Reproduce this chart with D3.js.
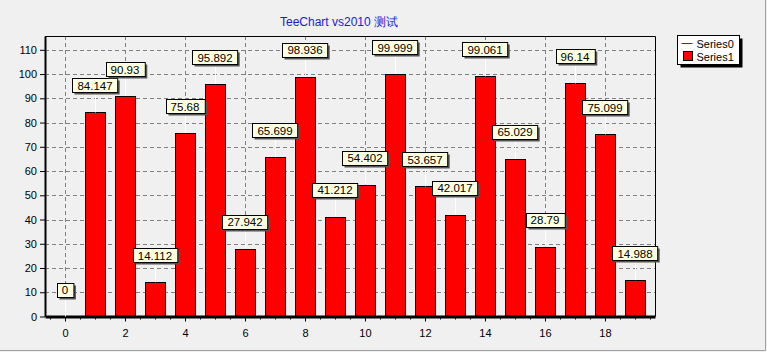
<!DOCTYPE html>
<html>
<head>
<meta charset="utf-8">
<script src="https://cdn.jsdelivr.net/npm/d3@7"></script>
<style>
  html, body { margin: 0; padding: 0; background: #f0f0f0; }
  svg text { font-family: "Liberation Sans", Arial, sans-serif; }
</style>
</head>
<body>
<div id="d3"></div>
<script>
// data
const categories = d3.range(0, 20);
const values = [0, 84.147, 90.93, 14.112, 75.68, 95.892, 27.942, 65.699, 98.936, 41.212,
  54.402, 99.999, 53.657, 42.017, 99.061, 65.029, 28.79, 96.14, 75.099, 14.988];
const yTicks = [0, 10, 20, 30, 40, 50, 60, 70, 80, 90, 100, 110];
const xTicks = [0, 2, 4, 6, 8, 10, 12, 14, 16, 18];
const legendItems = ["Series0", "Series1"];
const title = "TeeChart vs2010 测试";

const W = 767, H = 352;
const plot = { left: 45, right: 655, top: 36, bottom: 316.5 };

const svg = d3
  .select("#d3")
  .append("svg")
  .attr("width", W)
  .attr("height", H);

// panel
svg.append("rect").attr("width", W).attr("height", H).attr("fill", "#f0f0f0");
svg.append("line").attr("x1", 0).attr("x2", 765.5).attr("y1", 350.5).attr("y2", 350.5).attr("stroke", "#a0a0a0");
svg.append("line").attr("x1", 765.5).attr("x2", 765.5).attr("y1", 0).attr("y2", 350.5).attr("stroke", "#a0a0a0");

const x = d3.scaleLinear().domain([-0.667, 19.667]).range([plot.left, plot.right]);
const y = d3.scaleLinear().domain([0, 115.7]).range([plot.bottom, plot.top]);

// title
svg
  .append("text")
  .attr("x", 339)
  .attr("y", 26)
  .attr("text-anchor", "middle")
  .attr("font-size", 12)
  .attr("fill", "#1a1adc")
  .text(title);

// grid
const grid = svg.append("g").attr("stroke", "#808080").attr("stroke-dasharray", "4,3");
grid
  .selectAll("line.h")
  .data(yTicks.filter((d) => d > 0))
  .join("line")
  .attr("x1", plot.left)
  .attr("x2", plot.right)
  .attr("y1", (d) => Math.round(y(d)) + 0.5)
  .attr("y2", (d) => Math.round(y(d)) + 0.5);
grid
  .selectAll("line.v")
  .data(xTicks)
  .join("line")
  .attr("x1", (d) => Math.round(x(d)) + 0.5)
  .attr("x2", (d) => Math.round(x(d)) + 0.5)
  .attr("y1", plot.top)
  .attr("y2", plot.bottom);

// frame top / right
svg
  .append("path")
  .attr("d", `M${plot.left},${plot.top + 0.5}H${plot.right + 0.5}V${plot.bottom}`)
  .attr("fill", "none")
  .attr("stroke", "#000");

// bars
svg
  .append("g")
  .selectAll("rect")
  .data(values)
  .join("rect")
  .attr("x", (d, i) => Math.round(x(categories[i]) - 10) + 0.5)
  .attr("y", (d) => Math.round(y(d)) + 0.5)
  .attr("width", 20)
  .attr("height", (d) => Math.max(0, Math.round(y(0)) - Math.round(y(d))))
  .attr("fill", (d) => (d > 0 ? "#ff0000" : "none"))
  .attr("stroke", (d) => (d > 0 ? "#000" : "none"));

// axes
const yAxis = svg
  .append("g")
  .attr("transform", `translate(${plot.left},0)`)
  .call(d3.axisLeft(y).tickValues(yTicks).tickSize(5).tickPadding(3).tickSizeOuter(0));
const xAxis = svg
  .append("g")
  .attr("transform", `translate(0,${plot.bottom})`)
  .call(d3.axisBottom(x).tickValues(xTicks).tickSize(5).tickPadding(8).tickSizeOuter(0));
// minor ticks every half unit
xAxis
  .selectAll("line.minor")
  .data(d3.range(-0.5, 19.6, 0.5).filter((d) => !xTicks.includes(d)))
  .join("line")
  .attr("class", "minor")
  .attr("x1", (d) => Math.round(x(d)) + 0.5)
  .attr("x2", (d) => Math.round(x(d)) + 0.5)
  .attr("y1", 0)
  .attr("y2", 3)
  .attr("stroke", "#000");
[yAxis, xAxis].forEach((a) => {
  a.selectAll("text").attr("font-size", 11).attr("fill", "#000").attr("font-family", "Liberation Sans, Arial, sans-serif");
  a.selectAll(".tick line").attr("stroke", "#000");
});
yAxis.select(".domain").attr("stroke", "#000").attr("stroke-width", 2);
xAxis.select(".domain").attr("stroke", "#000").attr("stroke-width", 3);

// marks
const marks = svg.append("g").selectAll("g").data(values).join("g");
marks
  .append("line")
  .attr("x1", (d, i) => Math.round(x(categories[i])) + 0.5)
  .attr("x2", (d, i) => Math.round(x(categories[i])) + 0.5)
  .attr("y1", (d) => y(d) - 20)
  .attr("y2", (d) => y(d))
  .attr("stroke", "#fff");
marks.each(function (d, i) {
  const g = d3.select(this);
  const t = g
    .append("text")
    .attr("x", x(categories[i]))
    .attr("y", y(d) - 22.5)
    .attr("text-anchor", "middle")
    .attr("font-size", 11.5)
    .attr("fill", "#000")
    .text(String(d));
  const w = t.node().getComputedTextLength() + 10;
  const bx = Math.round(x(categories[i]) - w / 2) + 0.5,
    by = Math.round(y(d) - 34) + 0.5;
  g.insert("rect", "text").attr("x", bx + 2).attr("y", by + 2).attr("width", w).attr("height", 14).attr("fill", "#555");
  g.insert("rect", "text").attr("x", bx).attr("y", by).attr("width", w).attr("height", 14).attr("fill", "#ffffe1").attr("stroke", "#000");
});

// legend
const lg = svg.append("g").attr("transform", "translate(677.5,35.5)");
lg.append("rect").attr("x", 3).attr("y", 3).attr("width", 62).attr("height", 29).attr("fill", "#000");
lg.append("rect").attr("width", 62).attr("height", 29).attr("fill", "#fff").attr("stroke", "#000");
legendItems.forEach((name, i) => {
  const yy = 8 + i * 13;
  if (i === 0) {
    lg.append("line").attr("x1", 4).attr("x2", 15).attr("y1", yy).attr("y2", yy).attr("stroke", "#c00000");
  } else {
    lg.append("rect").attr("x", 6).attr("y", yy - 5).attr("width", 9).attr("height", 9).attr("fill", "#ff0000").attr("stroke", "#000");
  }
  lg.append("text").attr("x", 19).attr("y", yy + 4).attr("font-size", 11).attr("fill", "#000").text(name);
});
</script>
</body>
</html>
